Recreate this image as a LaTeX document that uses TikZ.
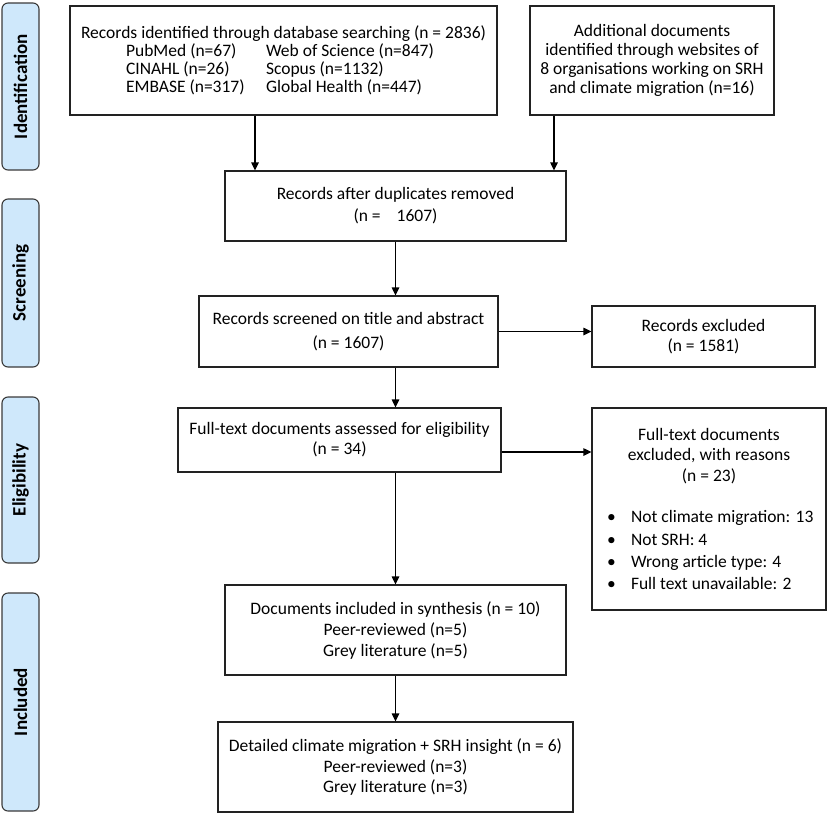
\documentclass[tikz,border=0pt]{standalone}
\usepackage{fontspec}
\setmainfont{Carlito}
\usetikzlibrary{arrows.meta}
\definecolor{sidefill}{HTML}{CFE8FB}
\definecolor{sidedraw}{HTML}{3A3A3A}
\definecolor{boxdraw}{HTML}{222222}
\begin{document}
\begin{tikzpicture}[x=1pt,y=-1pt,
  box/.style={draw=boxdraw, line width=1.2pt, rectangle, align=center, inner sep=2pt,
    font=\fontsize{17.5}{20}\selectfont},
  side/.style={draw=sidedraw, fill=sidefill, line width=1.1pt, rounded corners=6pt,
    minimum width=37pt, inner sep=0pt},
  sidetext/.style={rotate=90, font=\fontsize{19}{21}\selectfont\bfseries},
  arr/.style={draw=black, line width=1.2pt, -{Triangle[length=8pt,width=7.5pt]}}
]
\useasboundingbox (0,0) rectangle (829,814);

% side labels
\node[side, minimum height=167pt] (s1) at (20.5,86.5) {};
\node[sidetext] (s1t) at (s1.center) {Identification};
\node[side, minimum height=168pt] (s2) at (20.5,283) {};
\node[sidetext] (s2t) at (s2.center) {Screening};
\node[side, minimum height=166pt] (s3) at (20.5,480) {};
\node[sidetext] (s3t) at (s3.center) {Eligibility};
\node[side, minimum height=218pt] (s4) at (20.5,702) {};
\node[sidetext] (s4t) at (s4.center) {Included};

% boxes
\node[box, align=left, minimum width=427pt, minimum height=109pt,
  font=\fontsize{17.5}{18}\selectfont] (db) at (283.5,60.5)
  {Records identified through database searching (n = 2836)\\
   \hspace*{45pt}\makebox[140pt][l]{PubMed (n=67)}Web of Science (n=847)\\
   \hspace*{45pt}\makebox[140pt][l]{CINAHL (n=26)}Scopus (n=1132)\\
   \hspace*{45pt}\makebox[140pt][l]{EMBASE (n=317)}Global Health (n=447)};

\node[box, minimum width=244pt, minimum height=109pt,
  font=\fontsize{17.5}{19}\selectfont] (add) at (652,60.5)
  {Additional documents\\identified through websites of\\8 organisations working on SRH\\and climate migration (n=16)};

\node[box, minimum width=341pt, minimum height=70pt,
  font=\fontsize{17.5}{22}\selectfont] (dup) at (395.5,206)
  {Records after duplicates removed\\(n =\hspace{16pt}1607)};

\node[box, minimum width=299pt, minimum height=71pt,
  font=\fontsize{17.5}{24}\selectfont] (scr) at (348.5,331.5)
  {Records screened on title and abstract\\(n = 1607)};

\node[box, minimum width=223pt, minimum height=61pt] (exc1) at (703.5,336.5)
  {Records excluded\\(n = 1581)};

\node[box, minimum width=323pt, minimum height=64pt] (ft) at (339.5,440)
  {Full-text documents assessed for eligibility\\(n = 34)};

\node[box, minimum width=234pt, minimum height=202pt,
  font=\fontsize{17.5}{20.5}\selectfont] (exc2) at (709,509)
  {Full-text documents\\excluded, with reasons\\(n = 23)\\[21pt]
   \makebox[204pt][l]{\makebox[24pt][l]{\textbullet}Not climate migration: 13}\\[1.8pt]
   \makebox[204pt][l]{\makebox[24pt][l]{\textbullet}Not SRH: 4}\\[1.8pt]
   \makebox[204pt][l]{\makebox[24pt][l]{\textbullet}Wrong article type: 4}\\[1.8pt]
   \makebox[204pt][l]{\makebox[24pt][l]{\textbullet}Full text unavailable: 2}};

\node[box, minimum width=341pt, minimum height=90pt,
  font=\fontsize{17.5}{21}\selectfont] (inc) at (395.5,630)
  {Documents included in synthesis (n = 10)\\Peer-reviewed (n=5)\\Grey literature (n=5)};

\node[box, minimum width=355pt, minimum height=90pt,
  font=\fontsize{17.5}{20.5}\selectfont] (det) at (395.5,767)
  {Detailed climate migration + SRH insight (n = 6)\\Peer-reviewed (n=3)\\Grey literature (n=3)};

% connectors
\draw[arr] ([xshift=-28.5pt]db.south) -- ([xshift=-28.5pt]db.south |- dup.north);
\draw[arr] ([xshift=-98pt]add.south) -- ([xshift=-98pt]add.south |- dup.north);
\draw[arr] (dup.south) -- (dup.south |- scr.north);
\draw[arr] (scr.east) -- (scr.east -| exc1.west);
\draw[arr] (scr.south -| dup.south) -- (dup.south |- ft.north);
\draw[arr] ([yshift=-12pt]ft.east) -- ([yshift=-12pt]ft.east -| exc2.west);
\draw[arr] (ft.south -| inc.north) -- (inc.north);
\draw[arr] (inc.south) -- (det.north);
\end{tikzpicture}
\end{document}
